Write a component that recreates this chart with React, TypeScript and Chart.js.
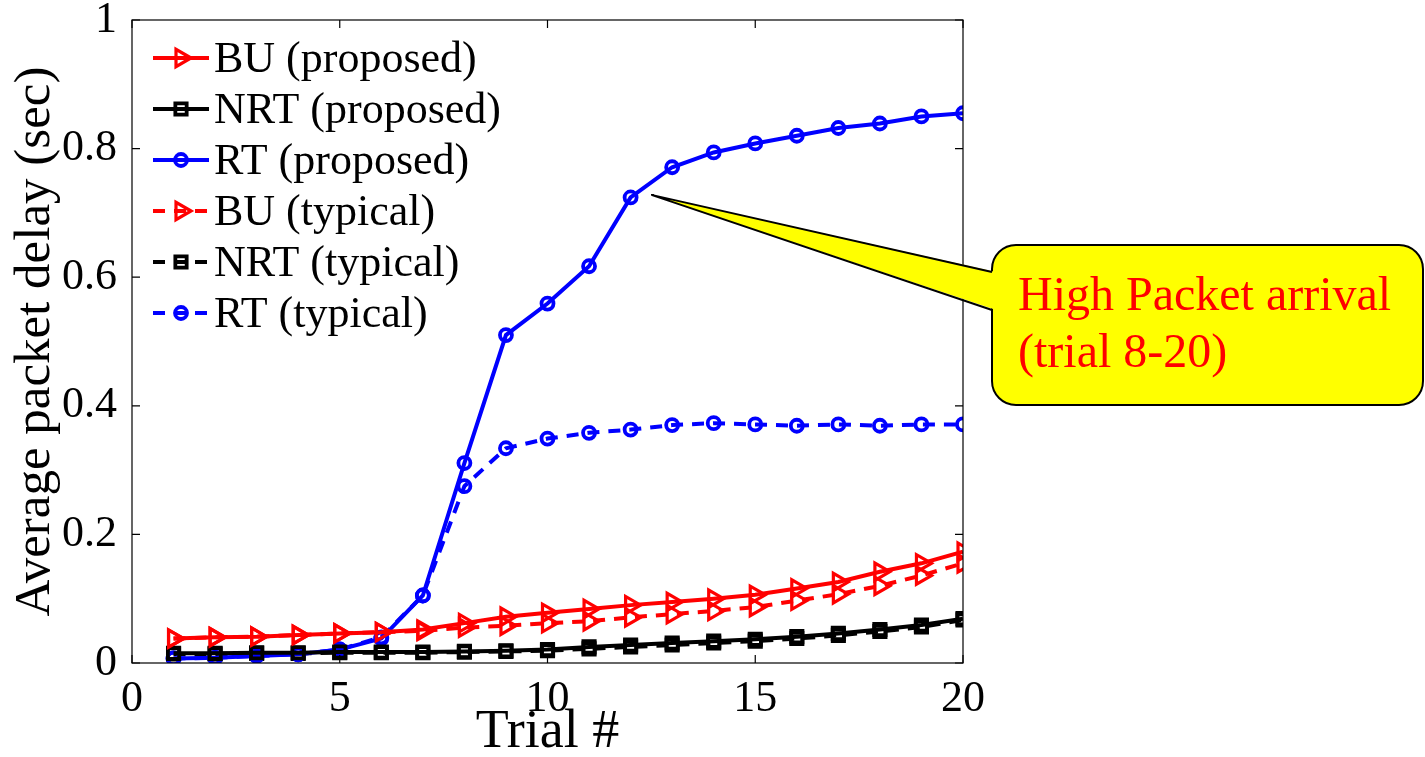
import React, { useEffect, useRef } from "react";
import { Chart, registerables } from "chart.js";

Chart.register(...registerables);

const trials = [1, 2, 3, 4, 5, 6, 7, 8, 9, 10, 11, 12, 13, 14, 15, 16, 17, 18, 19, 20];
const buProposed = [0.038, 0.040, 0.041, 0.0435, 0.046, 0.048, 0.052, 0.062, 0.072, 0.078, 0.084, 0.090, 0.095, 0.100, 0.106, 0.116, 0.126, 0.142, 0.155, 0.173];
const nrtProposed = [0.015, 0.015, 0.016, 0.016, 0.017, 0.017, 0.017, 0.018, 0.019, 0.021, 0.025, 0.028, 0.031, 0.034, 0.037, 0.041, 0.046, 0.052, 0.059, 0.069];
const rtProposed = [0.007, 0.008, 0.011, 0.0135, 0.021, 0.038, 0.105, 0.311, 0.510, 0.559, 0.617, 0.724, 0.771, 0.794, 0.808, 0.820, 0.832, 0.839, 0.850, 0.855];
const buTypical = [0.038, 0.040, 0.041, 0.0435, 0.046, 0.048, 0.050, 0.055, 0.058, 0.062, 0.065, 0.071, 0.076, 0.081, 0.087, 0.097, 0.107, 0.120, 0.136, 0.155];
const nrtTypical = [0.014, 0.014, 0.015, 0.015, 0.016, 0.016, 0.016, 0.017, 0.018, 0.019, 0.022, 0.025, 0.028, 0.031, 0.034, 0.038, 0.043, 0.049, 0.056, 0.067];
const rtTypical = [0.007, 0.008, 0.011, 0.0135, 0.021, 0.040, 0.105, 0.275, 0.334, 0.349, 0.358, 0.363, 0.370, 0.373, 0.371, 0.369, 0.371, 0.369, 0.371, 0.371];

const seriesLabels = ["BU (proposed)", "NRT (proposed)", "RT (proposed)", "BU (typical)", "NRT (typical)", "RT (typical)"];
const xTicks = [0, 5, 10, 15, 20];
const calloutLines = ["High Packet arrival", "(trial 8-20)"];
const calloutTarget = { x: 12.5, y: 0.728 };

const SERIF = "'Liberation Serif', 'Times New Roman', serif";
const RED = "#ff0000";
const BLUE = "#0000ff";
const BLACK = "#000000";
const DASH = [12, 9];

function drawMarker(ctx: CanvasRenderingContext2D, style: string, x: number, y: number, r: number, color: string, lw: number) {
  ctx.save();
  ctx.strokeStyle = color;
  ctx.lineWidth = lw;
  ctx.setLineDash([]);
  ctx.beginPath();
  if (style === "triangle") {
    ctx.moveTo(x + r, y);
    ctx.lineTo(x - r * 0.5, y - r * 0.866);
    ctx.lineTo(x - r * 0.5, y + r * 0.866);
    ctx.closePath();
  } else if (style === "rect") {
    const s = r * Math.SQRT1_2;
    ctx.rect(x - s, y - s, 2 * s, 2 * s);
  } else {
    ctx.arc(x, y, r, 0, Math.PI * 2);
  }
  ctx.stroke();
  ctx.restore();
}

const framePlugin = {
  id: "frame",
  afterDatasetsDraw(chart: any) {
    const { ctx, chartArea: a, scales } = chart;
    const xs = scales.x;
    const ys = scales.y;
    ctx.save();
    ctx.strokeStyle = BLACK;
    ctx.lineWidth = 1.2;
    ctx.setLineDash([]);
    ctx.strokeRect(a.left, a.top, a.right - a.left, a.bottom - a.top);
    const tl = 8;
    ctx.beginPath();
    xs.ticks.forEach((t: any) => {
      const px = xs.getPixelForValue(t.value);
      ctx.moveTo(px, a.bottom);
      ctx.lineTo(px, a.bottom - tl);
      ctx.moveTo(px, a.top);
      ctx.lineTo(px, a.top + tl);
    });
    ys.ticks.forEach((t: any) => {
      const py = ys.getPixelForValue(t.value);
      ctx.moveTo(a.left, py);
      ctx.lineTo(a.left + tl, py);
      ctx.moveTo(a.right, py);
      ctx.lineTo(a.right - tl, py);
    });
    ctx.stroke();

    // legend
    const lx0 = a.left + 21;
    const lx1 = a.left + 77;
    const top = a.top + 38;
    const step = 51;
    ctx.font = `44px ${SERIF}`;
    ctx.textBaseline = "middle";
    ctx.textAlign = "left";
    chart.data.datasets.forEach((ds: any, i: number) => {
      const y = top + i * step;
      ctx.strokeStyle = ds.borderColor;
      ctx.lineWidth = ds.borderWidth;
      ctx.setLineDash(ds.borderDash || []);
      ctx.beginPath();
      ctx.moveTo(lx0, y);
      ctx.lineTo(lx1, y);
      ctx.stroke();
      drawMarker(ctx, ds.pointStyle, (lx0 + lx1) / 2, y, ds.pointRadius, ds.borderColor, ds.pointBorderWidth);
      ctx.fillStyle = BLACK;
      ctx.fillText(ds.label, lx1 + 5, y + 2);
    });

    // callout
    const tipX = xs.getPixelForValue(calloutTarget.x);
    const tipY = ys.getPixelForValue(calloutTarget.y);
    const bx = a.right + 29;
    const by = a.top + 225;
    const bw = 431;
    const bh = 160;
    const rr = 24;
    ctx.setLineDash([]);
    ctx.beginPath();
    ctx.moveTo(bx + rr, by);
    ctx.lineTo(bx + bw - rr, by);
    ctx.arcTo(bx + bw, by, bx + bw, by + rr, rr);
    ctx.lineTo(bx + bw, by + bh - rr);
    ctx.arcTo(bx + bw, by + bh, bx + bw - rr, by + bh, rr);
    ctx.lineTo(bx + rr, by + bh);
    ctx.arcTo(bx, by + bh, bx, by + bh - rr, rr);
    ctx.lineTo(bx, by + rr);
    ctx.arcTo(bx, by, bx + rr, by, rr);
    ctx.closePath();
    ctx.fillStyle = "#ffff00";
    ctx.fill();
    ctx.strokeStyle = BLACK;
    ctx.lineWidth = 2;
    ctx.stroke();
    const j1 = by + 27;
    const j2 = by + 65;
    ctx.beginPath();
    ctx.moveTo(tipX, tipY);
    ctx.lineTo(bx + 4, j1);
    ctx.lineTo(bx + 4, j2);
    ctx.closePath();
    ctx.fill();
    ctx.beginPath();
    ctx.moveTo(bx, j1);
    ctx.lineTo(tipX, tipY);
    ctx.lineTo(bx, j2);
    ctx.stroke();
    ctx.fillStyle = RED;
    ctx.font = `48px ${SERIF}`;
    ctx.textBaseline = "alphabetic";
    ctx.fillText(calloutLines[0], bx + 26, by + 65);
    ctx.fillText(calloutLines[1], bx + 26, by + 122);
    ctx.restore();
  },
};

function ds(label: string, data: number[], color: string, style: string, dashed: boolean, r: number, pbw: number) {
  return {
    label,
    data: data.map((v, i) => ({ x: trials[i], y: v })),
    borderColor: color,
    backgroundColor: "transparent",
    borderWidth: 4,
    borderDash: dashed ? DASH : [],
    pointStyle: style,
    pointRotation: style === "triangle" ? 90 : 0,
    pointRadius: r,
    pointBorderWidth: pbw,
    pointBorderColor: color,
    pointBackgroundColor: "transparent",
    tension: 0,
  };
}

export default function App() {
  const ref = useRef<HTMLCanvasElement>(null);
  useEffect(() => {
    if (!ref.current) return;
    const chart = new Chart(ref.current, {
      type: "line",
      data: {
        datasets: [
          ds(seriesLabels[0], buProposed, RED, "triangle", false, 10, 3.2),
          ds(seriesLabels[1], nrtProposed, BLACK, "rect", false, 8, 3.8),
          ds(seriesLabels[2], rtProposed, BLUE, "circle", false, 6, 3.8),
          ds(seriesLabels[3], buTypical, RED, "triangle", true, 10, 3.2),
          ds(seriesLabels[4], nrtTypical, BLACK, "rect", true, 8, 3.8),
          ds(seriesLabels[5], rtTypical, BLUE, "circle", true, 6, 3.8),
        ] as any,
      },
      options: {
        animation: false,
        responsive: false,
        maintainAspectRatio: false,
        layout: { padding: { top: 20, right: 462, left: 0, bottom: 0 } },
        plugins: { legend: { display: false }, tooltip: { enabled: false } },
        scales: {
          x: {
            type: "linear",
            min: 0,
            max: 20,
            afterBuildTicks: (s: any) => {
              s.ticks = xTicks.map((v) => ({ value: v }));
            },
            afterFit: (s: any) => {
              s.height = 94;
              s.paddingLeft = 0;
              s.paddingRight = 0;
            },
            grid: { display: false },
            border: { display: false },
            ticks: { color: BLACK, font: { family: SERIF, size: 44 }, padding: 2, maxRotation: 0 },
            title: { display: true, text: "Trial #", color: BLACK, font: { family: SERIF, size: 54, lineHeight: 0.9 }, padding: { top: 0, bottom: 0 } },
          },
          y: {
            min: 0,
            max: 1,
            ticks: {
              stepSize: 0.2,
              color: BLACK,
              font: { family: SERIF, size: 44 },
              padding: 7,
              callback: (v: any) => String(Number(Number(v).toFixed(1))),
            },
            afterFit: (s: any) => {
              s.width = 132;
              s.paddingTop = 0;
              s.paddingBottom = 0;
            },
            grid: { display: false },
            border: { display: false },
            title: { display: true, text: "Average packet delay (sec)", color: BLACK, font: { family: SERIF, size: 51, lineHeight: 1.0 }, padding: { top: 10, bottom: 0 } },
          },
        },
      },
      plugins: [framePlugin],
    });
    return () => chart.destroy();
  }, []);
  return (
    <div style={{ position: "fixed", left: 0, top: 0, width: 1425, height: 757, background: "#fff" }}>
      <canvas ref={ref} width={1425} height={757} style={{ width: 1425, height: 757, display: "block" }} />
    </div>
  );
}
